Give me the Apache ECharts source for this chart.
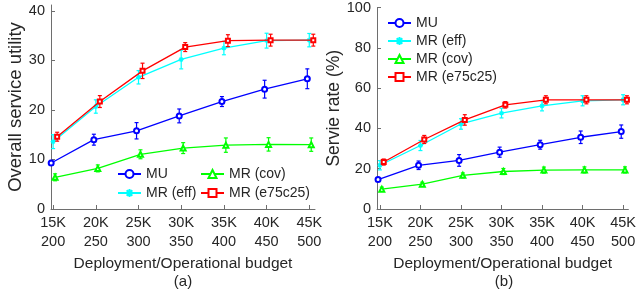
<!DOCTYPE html>
<html>
<head>
<meta charset="utf-8">
<script src="https://cdn.jsdelivr.net/npm/echarts@6/dist/echarts.min.js"></script>
<style>
  html, body { margin: 0; padding: 0; background: #fff; }
  #chart { width: 639px; height: 296px; }
</style>
</head>
<body>
<div id="chart"></div>
<script>
// budgets on the x axis
const budgetK = [15, 20, 25, 30, 35, 40, 45];
const opBudget = [200, 250, 300, 350, 400, 450, 500];
const names = ['MU', 'MR (eff)', 'MR (cov)', 'MR (e75c25)'];

// (a) overall service utility
const utilMU = [9.3, 14.0, 15.8, 18.8, 21.7, 24.2, 26.3];
const utilMUErr = [0.5, 1.1, 1.65, 1.4, 1.0, 1.8, 2.0];
const utilEff = [13.6, 20.7, 26.6, 30.2, 32.5, 34.0, 34.1];
const utilEffErr = [1.4, 1.35, 1.35, 1.9, 1.35, 1.5, 1.35];
const utilCov = [6.4, 8.2, 11.05, 12.3, 12.9, 13.05, 13.0];
const utilCovErr = [0.7, 0.7, 0.9, 1.1, 1.45, 1.35, 1.35];
const utilE75 = [14.6, 21.7, 27.9, 32.7, 34.0, 34.1, 34.1];
const utilE75Err = [0.9, 1.2, 1.55, 0.9, 1.2, 1.2, 1.2];

// (b) service rate (%)
const rateMU = [14.6, 21.7, 24.1, 28.2, 31.9, 35.6, 38.4];
const rateMUErr = [0.8, 2.1, 2.9, 2.5, 2.2, 3.1, 3.3];
const rateEff = [21.7, 31.5, 42.2, 47.6, 51.2, 53.7, 54.2];
const rateEffErr = [2.3, 2.5, 2.6, 2.4, 2.5, 2.5, 2.5];
const rateCov = [9.85, 12.3, 16.7, 18.6, 19.3, 19.4, 19.4];
const rateCovErr = [1.0, 1.0, 1.2, 1.5, 1.5, 1.5, 1.5];
const rateE75 = [23.3, 34.5, 44.2, 51.7, 54.2, 54.2, 54.2];
const rateE75Err = [1.5, 2.0, 2.6, 1.6, 2.0, 2.0, 2.0];

const colors = ['#0000ff', '#00ffff', '#00ff00', '#ff0000'];
const symbols = ['emptyCircle', 'path://M5 0L5 10M0 5L10 5M1.5 1.5L8.5 8.5M8.5 1.5L1.5 8.5', 'emptyTriangle', 'emptyRect'];
const symbolSizes = [5, 5, 5, 4];
// small horizontal shift per series so error bars don't overlap
const dodge = [-0.23, 0, 0.23, 0.47];

const textColor = '#262626';
const axisColor = '#6e6e6e';
const font = 'Liberation Sans, Arial, sans-serif';

function errRender(params, api) {
  const x = api.value(0);
  const p1 = api.coord([x, api.value(1)]);
  const p2 = api.coord([x, api.value(2)]);
  const w = 2;
  const st = { stroke: api.visual('color'), lineWidth: 1.2 };
  return {
    type: 'group',
    children: [
      { type: 'line', shape: { x1: p1[0], y1: p1[1], x2: p2[0], y2: p2[1] }, style: st },
      { type: 'line', shape: { x1: p1[0] - w, y1: p1[1], x2: p1[0] + w, y2: p1[1] }, style: st },
      { type: 'line', shape: { x1: p2[0] - w, y1: p2[1], x2: p2[0] + w, y2: p2[1] }, style: st }
    ]
  };
}

function makeSeries(idx, vals, errs) {
  const out = [];
  vals.forEach(function (v, s) {
    const xs = budgetK.map(b => b + dodge[s]);
    out.push({
      type: 'custom',
      name: names[s] + ' err',
      xAxisIndex: idx, yAxisIndex: idx,
      renderItem: errRender,
      itemStyle: { color: colors[s] },
      data: xs.map((x, i) => [x, v[i] - errs[s][i], v[i] + errs[s][i]]),
      z: 2 + s * 2,
      clip: false,
      silent: true
    });
    out.push({
      type: 'line',
      name: names[s],
      xAxisIndex: idx, yAxisIndex: idx,
      data: xs.map((x, i) => [x, v[i]]),
      symbol: symbols[s],
      symbolSize: symbolSizes[s],
      lineStyle: { color: colors[s], width: 1.3 },
      itemStyle: { color: colors[s], borderColor: colors[s], borderWidth: 1.2 },
      z: 3 + s * 2,
      clip: false
    });
  });
  return out;
}

function xAxisOf(idx, min, max) {
  return {
    type: 'value', gridIndex: idx, min: min, max: max,
    name: 'Deployment/Operational budget',
    nameLocation: 'middle', nameGap: 42,
    nameTextStyle: { color: textColor, fontSize: 15.5, fontFamily: font },
    axisLine: { lineStyle: { color: axisColor, width: 1 } },
    axisTick: { inside: true, length: 4, customValues: budgetK, lineStyle: { color: axisColor } },
    splitLine: { show: false },
    axisLabel: {
      customValues: budgetK,
      color: textColor, fontSize: 14.5, fontFamily: font,
      lineHeight: 19, margin: 4,
      formatter: function (val) {
        const i = budgetK.indexOf(val);
        return budgetK[i] + 'K\n' + opBudget[i];
      }
    }
  };
}

function yAxisOf(idx, max, ticks, name, gap, nameSize) {
  return {
    type: 'value', gridIndex: idx, min: 0, max: max,
    name: name, nameLocation: 'middle', nameGap: gap,
    nameTextStyle: { color: textColor, fontSize: nameSize, fontFamily: font },
    axisLine: { show: true, lineStyle: { color: axisColor, width: 1 } },
    axisTick: { show: true, inside: true, length: 4, customValues: ticks, lineStyle: { color: axisColor } },
    splitLine: { show: false },
    axisLabel: { customValues: ticks, color: textColor, fontSize: 14.5, fontFamily: font, margin: 6 }
  };
}

const legendBase = {
  itemWidth: 23, itemHeight: 10, padding: 0,
  textStyle: { color: textColor, fontSize: 14, fontFamily: font },
  selectedMode: false
};

const myChart = echarts.init(document.getElementById('chart'));
const option = {
  backgroundColor: '#fff',
  animation: false,
  grid: [
    { left: 51, right: 324, top: 5, bottom: 87 },
    { left: 377, right: 7, top: 6, bottom: 87 }
  ],
  xAxis: [xAxisOf(0, 14.75, 45.67), xAxisOf(1, 14.64, 45.65)],
  yAxis: [
    yAxisOf(0, 41.2, [0, 10, 20, 30, 40], 'Overall service utility', 24.5, 18.5),
    yAxisOf(1, 100, [0, 20, 40, 60, 80, 100], 'Servie rate (%)', 34, 17.5)
  ],
  legend: [
    Object.assign({ data: [names[0]], left: 117, top: 167 }, legendBase),
    Object.assign({ data: [names[2]], left: 200, top: 167 }, legendBase),
    Object.assign({ data: [names[1]], left: 117, top: 186 }, legendBase),
    Object.assign({ data: [names[3]], left: 200, top: 186 }, legendBase),
    Object.assign({ data: names, orient: 'vertical', left: 387, top: 16, itemGap: 4 }, legendBase)
  ],
  graphic: [
    { type: 'text', x: 183, y: 274, style: { text: '(a)', fill: textColor, fontSize: 15, fontFamily: font, textAlign: 'center' } },
    { type: 'text', x: 504, y: 274, style: { text: '(b)', fill: textColor, fontSize: 15, fontFamily: font, textAlign: 'center' } }
  ],
  series: makeSeries(0, [utilMU, utilEff, utilCov, utilE75], [utilMUErr, utilEffErr, utilCovErr, utilE75Err])
    .concat(makeSeries(1, [rateMU, rateEff, rateCov, rateE75], [rateMUErr, rateEffErr, rateCovErr, rateE75Err]))
};
myChart.setOption(option);
</script>
</body>
</html>
